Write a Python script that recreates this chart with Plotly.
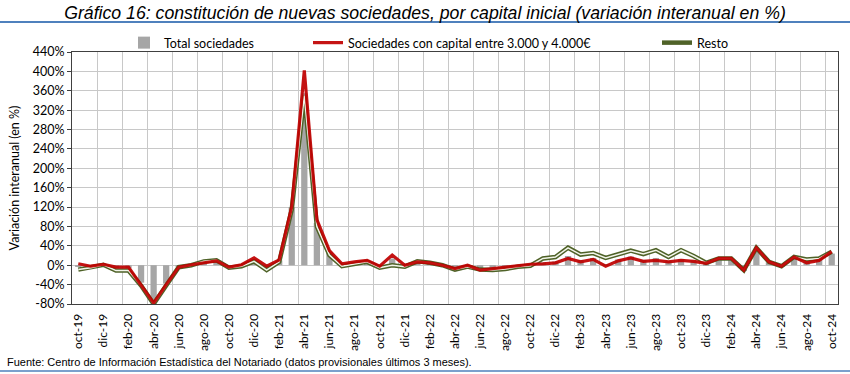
import plotly.graph_objects as go

# ---------------- data ----------------
month_abbr = ["ene", "feb", "mar", "abr", "may", "jun", "jul", "ago", "sep", "oct", "nov", "dic"]
months = []
for year in range(2019, 2025):
    for m, ab in enumerate(month_abbr, start=1):
        if (year == 2019 and m < 10) or (year == 2024 and m > 10):
            continue
        months.append(f"{ab}-{str(year)[2:]}")

total_sociedades = [-2, -3, 1, -6, -6, -36, -78, -38, -4, 1,
                    6, 9, -4, 0, 12, -6, 10, 120, 355, 87,
                    27, 1, 5, 9, -3, 14, -1, 7, 5, 0,
                    -8, -1, -10, -8, -4, -1, 1, 6, 8, 19,
                    11, 15, 2, 12, 18, 11, 15, 9, 13, 10,
                    4, 11, 13, -12, 33, 6, -3, 16, 7, 11,
                    24]

capital_3000_4000 = [3, -2, 2, -4, -4, -40, -78, -40, -4, 1,
                     5, 9, -4, 1, 15, -2, 11, 121, 402, 94,
                     30, 3, 7, 10, -2, 21, 0, 7, 5, 0,
                     -7, 0, -10, -7, -3, 0, 2, 3, 5, 14,
                     7, 12, -2, 9, 15, 8, 10, 7, 10, 8,
                     4, 14, 14, -10, 36, 7, -2, 17, 5, 10,
                     28]

resto = [-9, -5, 1, -11, -11, -42, -80, -42, -4, 0,
         8, 10, -5, -2, 8, -10, 7, 115, 350, 80,
         21, -2, 3, 7, -5, 0, -3, 8, 5, 0,
         -9, -3, -9, -10, -8, -3, -1, 14, 17, 36,
         22, 25, 15, 22, 30, 23, 31, 17, 31, 19,
         5, 14, 14, -10, 36, 7, -2, 17, 12, 14,
         28]

y_ticks = [-80, -40, 0, 40, 80, 120, 160, 200, 240, 280, 320, 360, 400, 440]
y_tick_labels = [f"{v}%" for v in y_ticks]

# ---------------- figure ----------------
x = list(range(len(months)))
n = len(months)
y_min, y_max = y_ticks[0], y_ticks[-1]

FONT = "Lato, Carlito, 'Liberation Sans Narrow', sans-serif"

fig = go.Figure()

fig.add_trace(go.Bar(
    x=x, y=total_sociedades, name="Total sociedades",
    marker=dict(color="#A6A6A6", line=dict(width=0)), width=0.5,
    legend="legend",
))

# "Resto": double line (dark olive border, light centre)
fig.add_trace(go.Scatter(
    x=x, y=resto, name="Resto", mode="lines",
    line=dict(color="#4F6228", width=4.5),
    legend="legend3",
))
fig.add_trace(go.Scatter(
    x=x, y=resto, name="Resto", mode="lines",
    line=dict(color="#F2F5EA", width=1.5),
    showlegend=False, hoverinfo="skip",
))

fig.add_trace(go.Scatter(
    x=x, y=capital_3000_4000, name="Sociedades con capital entre 3.000 y 4.000€",
    mode="lines", line=dict(color="#C00000", width=3.2),
    opacity=0.92, legend="legend2",
))

boundaries = [i + 0.5 for i in range(1, n - 1, 2)]

legend_common = dict(orientation="h", xref="container", yref="container",
                     y=1 - 43 / 374, xanchor="left", yanchor="middle",
                     font=dict(size=12.5, family=FONT), bgcolor="rgba(0,0,0,0)",
                     itemwidth=30)

fig.update_layout(
    width=850, height=374,
    margin=dict(l=72, r=12, t=52, b=70, autoexpand=False),
    paper_bgcolor="white", plot_bgcolor="white",
    font=dict(family=FONT, size=12, color="#000000"),
    title=dict(
        text="<i>Gráfico 16: constitución de nuevas sociedades, por capital inicial (variación interanual en %)</i>",
        x=0.5, xanchor="center", y=1 - 13 / 374, yanchor="middle",
        xref="container", yref="container",
        font=dict(family="'Liberation Sans Narrow', 'Liberation Sans', sans-serif", size=17.7, color="#000000"),
    ),
    bargap=0.5,
    xaxis=dict(
        range=[-0.5, n - 0.5],
        tickmode="array", tickvals=x[::2], ticktext=months[::2],
        tickangle=-90, tickfont=dict(size=12, family=FONT),
        showgrid=False, zeroline=False,
        showline=True, mirror=True, linecolor="#404040", linewidth=1,
        ticks="", ticklabelstandoff=4,
        minor=dict(tickmode="array", tickvals=boundaries, showgrid=True,
                   gridcolor="#C8C8C8", gridwidth=1.3, ticks=""),
    ),
    xaxis2=dict(
        overlaying="x", anchor="free", position=(0 - y_min) / (y_max - y_min),
        range=[-0.5, n - 0.5], side="bottom",
        tickmode="array", tickvals=boundaries, showticklabels=False,
        ticks="outside", ticklen=4, tickcolor="#000000", tickwidth=1,
        showgrid=False, zeroline=False,
        showline=True, linecolor="#000000", linewidth=1,
    ),
    yaxis=dict(
        range=[y_min, y_max],
        tickmode="array", tickvals=y_ticks, ticktext=y_tick_labels,
        tickfont=dict(size=12.5, family=FONT),
        showgrid=True, gridcolor="#C8C8C8", gridwidth=1.3,
        zeroline=False,
        showline=True, mirror=True, linecolor="#404040", linewidth=1,
        ticks="outside", ticklen=4, tickcolor="#404040",
        title=dict(text="Variación interanual (en %)", font=dict(size=12.5, family=FONT), standoff=10),
    ),
    legend=dict(legend_common, x=124 / 850),
    legend2=dict(legend_common, x=308 / 850),
    legend3=dict(legend_common, x=657 / 850),
    showlegend=True,
    shapes=[
        dict(type="line", xref="paper", yref="paper",
             x0=-72 / 766, x1=(850 - 72) / 766, y0=(304 - 22) / 252, y1=(304 - 22) / 252,
             line=dict(color="#4F81BD", width=2)),
        dict(type="line", xref="paper", yref="paper",
             x0=-72 / 766, x1=(850 - 72) / 766, y0=(304 - 371) / 252, y1=(304 - 371) / 252,
             line=dict(color="#4F81BD", width=1.5)),
    ],
    annotations=[
        dict(text="Fuente: Centro de Información Estadística del Notariado (datos provisionales últimos 3 meses).",
             xref="paper", yref="paper", x=(5 - 72) / 766, y=(304 - 362) / 252,
             xanchor="left", yanchor="middle", showarrow=False,
             font=dict(size=11, family="'Liberation Sans', Arial, sans-serif")),
    ],
)

fig.write_html("out.html",
               config={"displayModeBar": False},
               post_script="document.body.style.margin='0';document.body.style.overflow='hidden';")
